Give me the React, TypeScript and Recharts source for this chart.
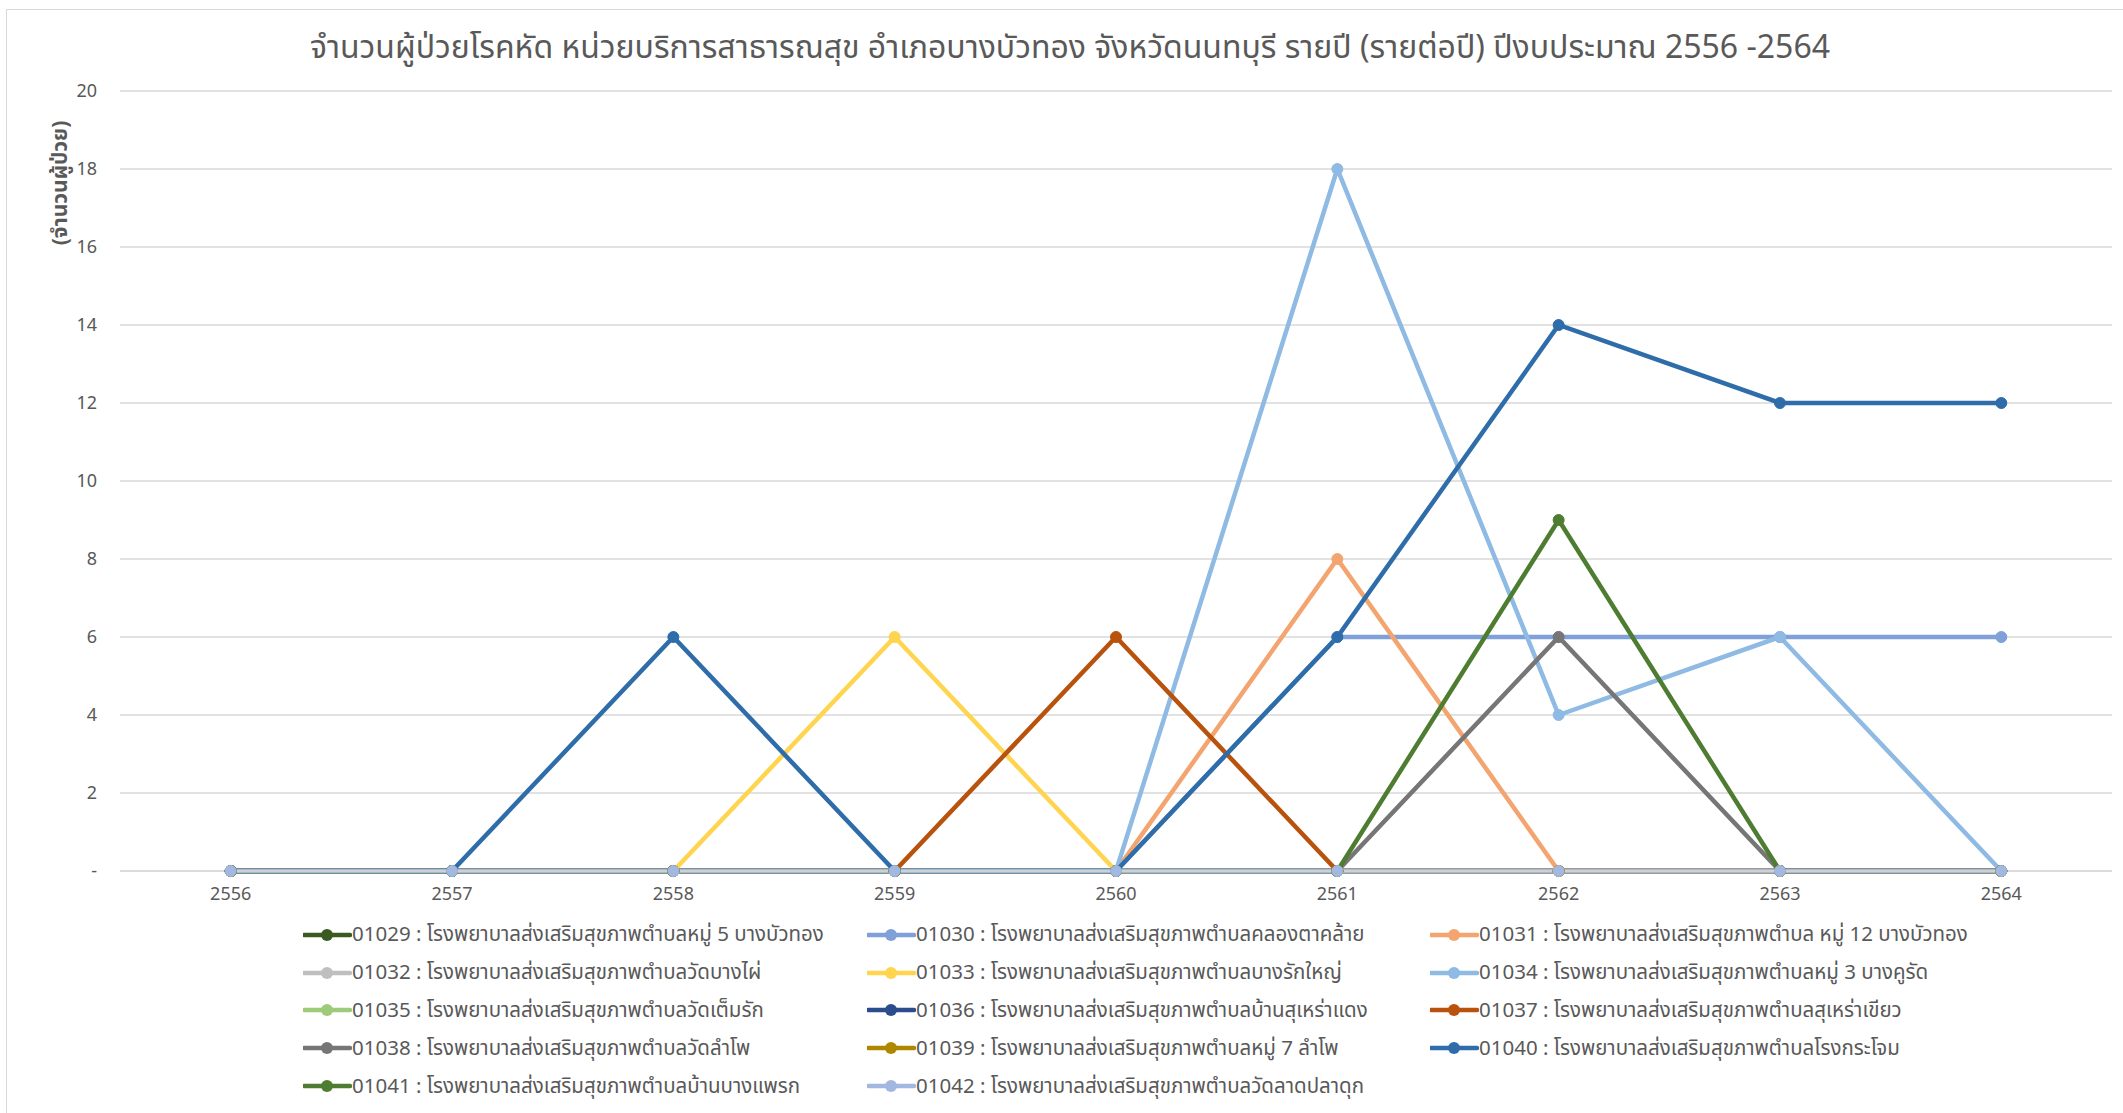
import React from 'react';
import { LineChart, Line, XAxis, YAxis, CartesianGrid, Legend } from 'recharts';

const years = ['2556', '2557', '2558', '2559', '2560', '2561', '2562', '2563', '2564'];

const codes = ['01029', '01030', '01031', '01032', '01033', '01034', '01035', '01036', '01037', '01038', '01039', '01040', '01041', '01042'];

const names = [
  'โรงพยาบาลส่งเสริมสุขภาพตำบลหมู่ 5 บางบัวทอง',
  'โรงพยาบาลส่งเสริมสุขภาพตำบลคลองตาคล้าย',
  'โรงพยาบาลส่งเสริมสุขภาพตำบล หมู่ 12 บางบัวทอง',
  'โรงพยาบาลส่งเสริมสุขภาพตำบลวัดบางไผ่',
  'โรงพยาบาลส่งเสริมสุขภาพตำบลบางรักใหญ่',
  'โรงพยาบาลส่งเสริมสุขภาพตำบลหมู่ 3 บางคูรัด',
  'โรงพยาบาลส่งเสริมสุขภาพตำบลวัดเต็มรัก',
  'โรงพยาบาลส่งเสริมสุขภาพตำบลบ้านสุเหร่าแดง',
  'โรงพยาบาลส่งเสริมสุขภาพตำบลสุเหร่าเขียว',
  'โรงพยาบาลส่งเสริมสุขภาพตำบลวัดลำโพ',
  'โรงพยาบาลส่งเสริมสุขภาพตำบลหมู่ 7 ลำโพ',
  'โรงพยาบาลส่งเสริมสุขภาพตำบลโรงกระโจม',
  'โรงพยาบาลส่งเสริมสุขภาพตำบลบ้านบางแพรก',
  'โรงพยาบาลส่งเสริมสุขภาพตำบลวัดลาดปลาดุก',
];

const colors = ['#3a5a22', '#7fa0d8', '#f4a56f', '#bfbfbf', '#ffd44f', '#8ebae3', '#9dcb7a', '#2b4d8d', '#b9520c', '#767676', '#b08800', '#2f6daa', '#4e7d32', '#a2b8e0'];

// patients per year, 2556..2564
const s01029 = [0, 0, 0, 0, 0, 0, 0, 0, 0];
const s01030 = [0, 0, 0, 0, 0, 6, 6, 6, 6];
const s01031 = [0, 0, 0, 0, 0, 8, 0, 0, 0];
const s01032 = [0, 0, 0, 0, 0, 0, 0, 0, 0];
const s01033 = [0, 0, 0, 6, 0, 0, 0, 0, 0];
const s01034 = [0, 0, 0, 0, 0, 18, 4, 6, 0];
const s01035 = [0, 0, 0, 0, 0, 0, 0, 0, 0];
const s01036 = [0, 0, 0, 0, 0, 0, 0, 0, 0];
const s01037 = [0, 0, 0, 0, 6, 0, 0, 0, 0];
const s01038 = [0, 0, 0, 0, 0, 0, 6, 0, 0];
const s01039 = [0, 0, 0, 0, 0, 0, 0, 0, 0];
const s01040 = [0, 0, 6, 0, 0, 6, 14, 12, 12];
const s01041 = [0, 0, 0, 0, 0, 0, 9, 0, 0];
const s01042 = [0, 0, 0, 0, 0, 0, 0, 0, 0];

const seriesValues = [s01029, s01030, s01031, s01032, s01033, s01034, s01035, s01036, s01037, s01038, s01039, s01040, s01041, s01042];

const yTicks = [0, 2, 4, 6, 8, 10, 12, 14, 16, 18, 20];

const data = years.map((y, i) => {
  const row: Record<string, string | number> = { year: y };
  codes.forEach((c, k) => {
    row[c] = seriesValues[k][i];
  });
  return row;
});

const FONT = '"Noto Sans", "Noto Sans Thai", Tahoma, sans-serif';
const TEXT = '#595959';

const LegendGrid = (props: any) => {
  const { payload } = props;
  return (
    <div style={{ display: 'grid', gridTemplateColumns: '564px 563px 640px', fontFamily: FONT, fontSize: 20.5, color: TEXT }}>
      {(payload || []).map((p: any) => (
        <div key={p.value} style={{ display: 'flex', alignItems: 'center', height: 37.8, whiteSpace: 'nowrap' }}>
          <svg width={49} height={14} style={{ flex: 'none' }}>
            <line x1={1} y1={7} x2={47} y2={7} stroke={p.color} strokeWidth={4.5} strokeLinecap="round" />
            <circle cx={24} cy={7} r={6} fill={p.color} />
          </svg>
          <span>{`${p.value} : ${names[codes.indexOf(p.value)]}`}</span>
        </div>
      ))}
    </div>
  );
};

export default function App() {
  return (
    <div style={{ position: 'absolute', left: 6, top: 9, width: 2117, height: 1104, borderLeft: '1px solid #d9d9d9', borderTop: '1px solid #d9d9d9', background: '#fff', overflow: 'hidden' }}>
      <div style={{ position: 'absolute', left: 0, top: 14, width: 2126, textAlign: 'center', fontFamily: FONT, fontSize: 32, color: TEXT, whiteSpace: 'nowrap' }}>
        จำนวนผู้ป่วยโรคหัด หน่วยบริการสาธารณสุข อำเภอบางบัวทอง จังหวัดนนทบุรี รายปี (รายต่อปี) ปีงบประมาณ 2556 -2564
      </div>
      <div style={{ position: 'absolute', left: 53, top: 173, transform: 'translate(-50%, -50%) rotate(-90deg)', fontFamily: FONT, fontSize: 21, fontWeight: 700, color: TEXT, whiteSpace: 'nowrap' }}>
        (จำนวนผู้ป่วย)
      </div>
      <LineChart width={2116} height={1103} data={data} margin={{ top: 81, right: 11, bottom: 202, left: 0 }}>
        <CartesianGrid vertical={false} stroke="#d9d9d9" strokeWidth={1.3} />
        <XAxis
          dataKey="year"
          padding={{ left: 110.7, right: 110.7 }}
          axisLine={{ stroke: '#d9d9d9', strokeWidth: 1.3 }}
          tickLine={false}
          tickSize={0}
          tickMargin={16}
          height={40}
          tick={{ fontFamily: FONT, fontSize: 18, fill: TEXT }}
        />
        <YAxis
          domain={[0, 20]}
          ticks={yTicks}
          interval={0}
          width={113}
          axisLine={false}
          tickLine={false}
          tickSize={0}
          tickMargin={23}
          tickFormatter={(v: number) => (v === 0 ? '-' : String(v))}
          tick={{ fontFamily: FONT, fontSize: 18, fill: TEXT }}
        />
        <Legend
          layout="vertical"
          align="center"
          verticalAlign="middle"
          wrapperStyle={{ position: 'absolute', left: 296, top: 906, width: 1820 }}
          content={LegendGrid}
        />
        {codes.map((c, k) => (
          <Line
            key={c}
            dataKey={c}
            name={c}
            type="linear"
            stroke={colors[k]}
            strokeWidth={4.5}
            dot={{ r: 5.5, fill: colors[k], stroke: colors[k], strokeWidth: 1 }}
            activeDot={false}
            isAnimationActive={false}
          />
        ))}
      </LineChart>
    </div>
  );
}
